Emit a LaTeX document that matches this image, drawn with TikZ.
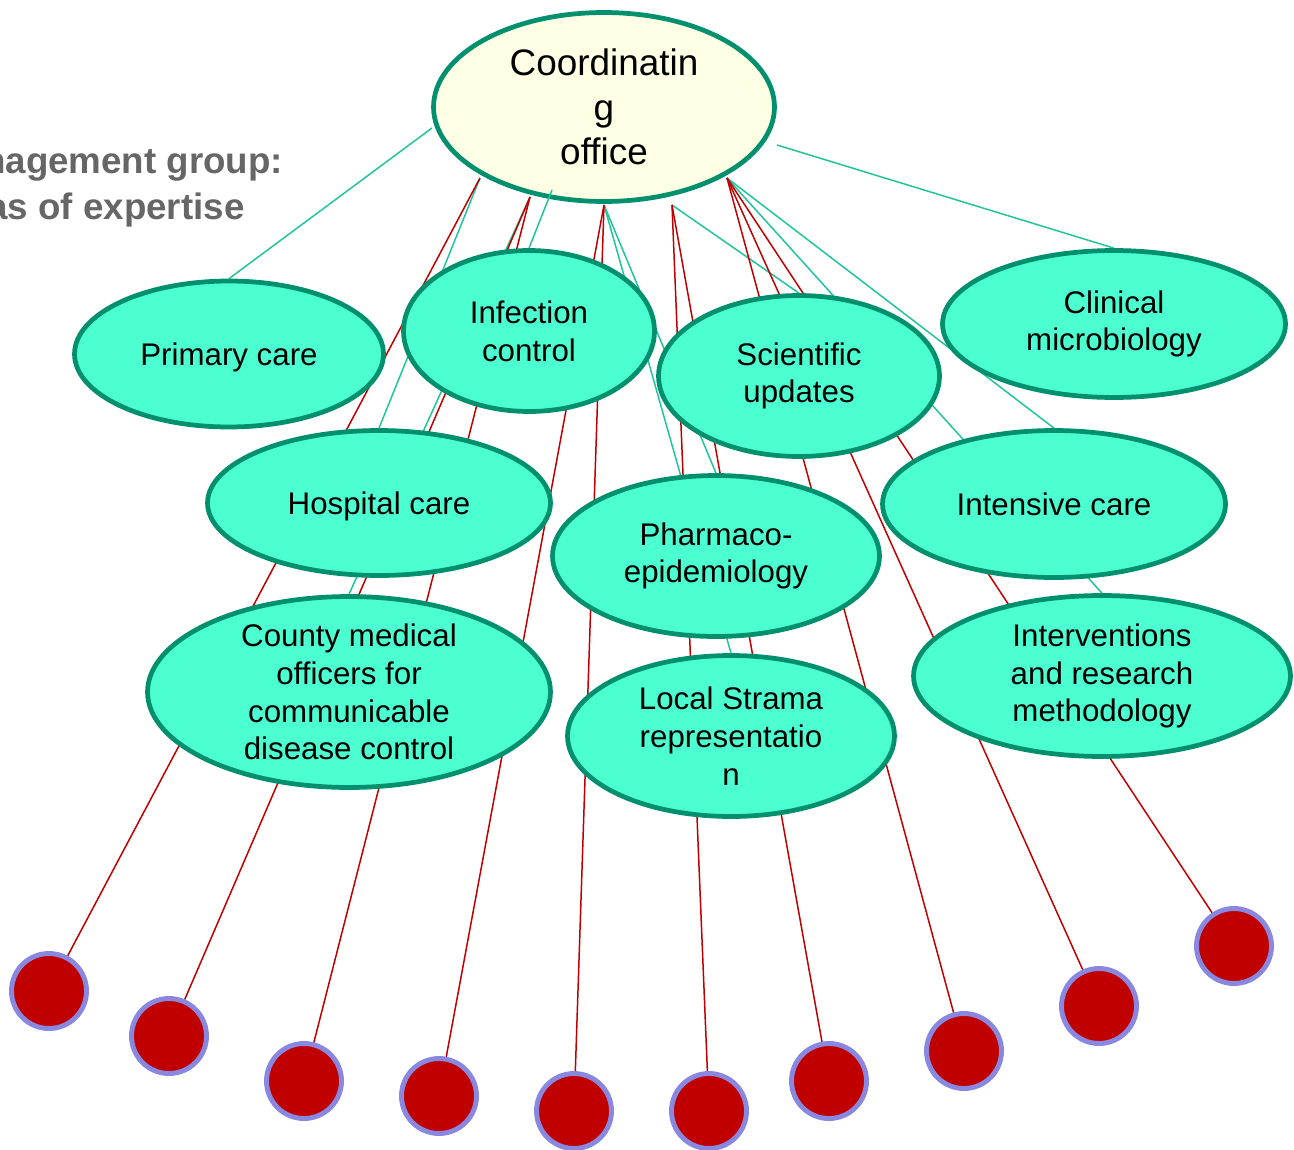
\documentclass[tikz,border=0pt]{standalone}
\usepackage{fontspec}
\setmainfont{Liberation Sans}
\usetikzlibrary{shapes.geometric}

\definecolor{rimgreen}{HTML}{00906E}
\definecolor{areafill}{HTML}{4BFFD0}
\definecolor{officefill}{HTML}{FFFFE6}
\definecolor{linkgreen}{HTML}{20C49C}
\definecolor{linkred}{HTML}{C00000}
\definecolor{dotrim}{HTML}{8888E0}
\definecolor{titlegray}{HTML}{666666}

\pgfdeclarelayer{base}
\pgfdeclarelayer{links}
\pgfsetlayers{base,links,main}

\begin{document}
\begin{tikzpicture}[x=0.02cm, y=-0.02cm,
  area/.style={ellipse, draw=rimgreen, line width=2.7pt, fill=areafill,
    inner sep=-30pt, align=center,
    font=\fontsize{17.8pt}{21.5pt}\selectfont},
  oneline/.style={area, text depth=0pt},
  office/.style={area, fill=officefill,
    font=\fontsize{21pt}{25.2pt}\selectfont},
  member/.style={circle, draw=dotrim, line width=2.8pt, fill=linkred,
    minimum size=1.5cm, inner sep=0pt},
  greenlink/.style={draw=linkgreen, line width=0.85pt},
  redlink/.style={draw=linkred, line width=0.85pt},
  heading/.style={anchor=north west, align=left, text=titlegray,
    font=\fontsize{20.9pt}{26pt}\selectfont\bfseries}
]
\path[use as bounding box, clip] (0,0) rectangle (1294,1149);

% group heading, running in from the left margin
\node[heading] at (-74,142) {Management group:\\areas of expertise};

% coordinating office
\begin{pgfonlayer}{base}
\node[office, minimum width=6.82cm, minimum height=3.78cm] (office) at (604,107)
  {Coordinatin\\g\\office};
\end{pgfonlayer}

% points on the office rim where the links leave
\coordinate (oL) at (432,128);
\coordinate (oR) at (777,145);
\coordinate (oI) at (552,190);
\coordinate (oA) at (480,178);
\coordinate (oB) at (530,197);
\coordinate (oC) at (604,205);
\coordinate (oD) at (672,205);
\coordinate (oE) at (727,178);

% areas of expertise
\node[oneline, minimum width=6.18cm, minimum height=2.92cm] (primary) at (229,354) {Primary care};
\node[area, minimum width=5.02cm, minimum height=3.22cm] (infection) at (529,331) {Infection\\control};
\node[area, minimum width=5.62cm, minimum height=3.22cm] (scientific) at (799,376) {Scientific\\updates};
\node[area, minimum width=6.86cm, minimum height=2.94cm] (clinical) at (1114,324) {Clinical\\microbiology};
\node[oneline, minimum width=6.86cm, minimum height=2.90cm] (hospital) at (379,503) {Hospital care};
\node[area, minimum width=6.54cm, minimum height=3.22cm] (pharma) at (716,556) {Pharmaco-\\epidemiology};
\node[oneline, minimum width=6.86cm, minimum height=2.94cm] (intensive) at (1054,504) {Intensive care};
\node[area, minimum width=8.06cm, minimum height=3.82cm] (county) at (349,692)
  {County medical\\officers for\\communicable\\disease control};
\node[area, minimum width=6.54cm, minimum height=3.22cm] (strama) at (731,736)
  {Local Strama\\representatio\\n};
\node[area, minimum width=7.54cm, minimum height=3.22cm] (interventions) at (1102,676)
  {Interventions\\and research\\methodology};

% local members
\node[member] (d1) at (49,991) {};
\node[member] (d2) at (169,1036) {};
\node[member] (d3) at (304,1081) {};
\node[member] (d4) at (439,1096) {};
\node[member] (d5) at (574,1111) {};
\node[member] (d6) at (709,1111) {};
\node[member] (d7) at (829,1081) {};
\node[member] (d8) at (964,1051) {};
\node[member] (d9) at (1099,1006) {};
\node[member] (d10) at (1234,946) {};

\begin{pgfonlayer}{links}
% office to areas of expertise
\draw[greenlink] (oL) -- (primary.north);
\draw[greenlink] (oR) -- (clinical.north);
\draw[greenlink] (oI) -- (infection.north);
\draw[greenlink] (oA) -- (hospital.north);
\draw[greenlink] (oB) -- (county.north);
\draw[greenlink] (oC) -- (pharma.north);
\draw[greenlink] (oC) -- (strama.north);
\draw[greenlink] (oD) -- (scientific.north);
\draw[greenlink] (oE) -- (intensive.north);
\draw[greenlink] (oE) -- (interventions.north);
% office to local members
\draw[redlink] (oA) -- (d1.center);
\draw[redlink] (oB) -- (d2.center);
\draw[redlink] (oB) -- (d3.center);
\draw[redlink] (oC) -- (d4.center);
\draw[redlink] (oC) -- (d5.center);
\draw[redlink] (oD) -- (d6.center);
\draw[redlink] (oD) -- (d7.center);
\draw[redlink] (oE) -- (d8.center);
\draw[redlink] (oE) -- (d9.center);
\draw[redlink] (oE) -- (d10.center);
\end{pgfonlayer}
\end{tikzpicture}
\end{document}
